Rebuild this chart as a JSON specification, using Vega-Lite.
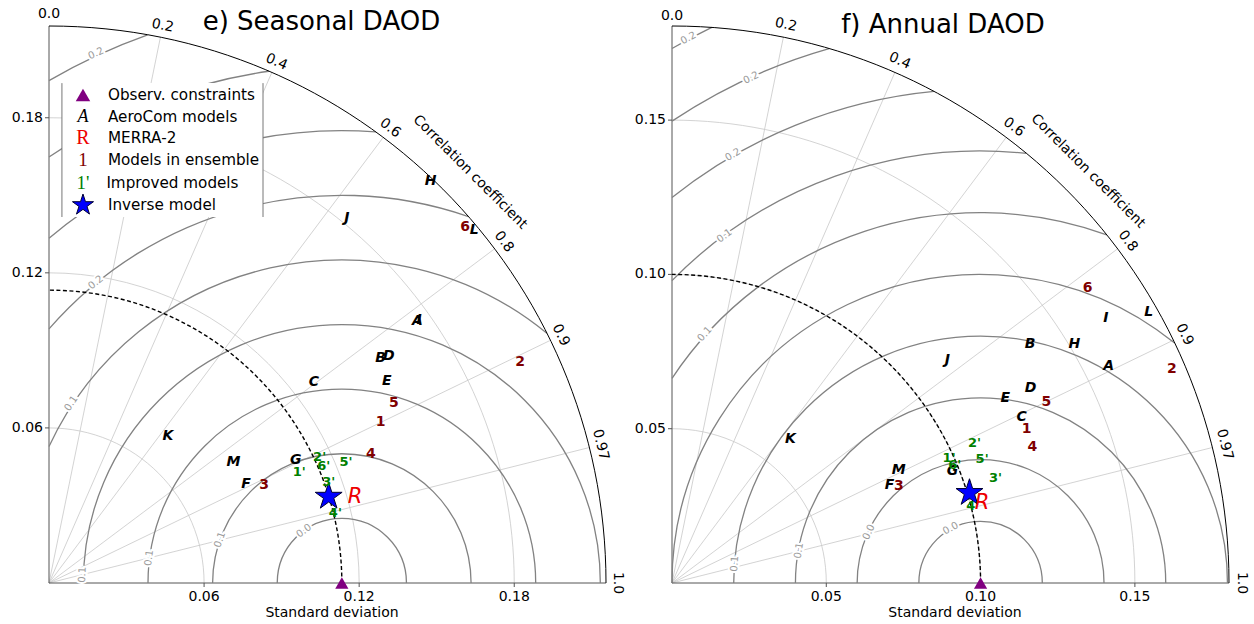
{
  "$schema": "https://vega.github.io/schema/vega-lite/v6.json",
  "background": "white",
  "autosize": {"type": "none"},
  "padding": {"left": 49, "top": 26, "right": 0, "bottom": 41},
  "width": 1205,
  "height": 557,
  "config": {
    "view": {"stroke": null},
    "font": "DejaVu Sans",
    "text": {"font": "DejaVu Sans"}
  },
  "resolve": {"scale": {"x": "independent", "y": "independent", "size": "independent"}},
  "datasets": {
    "e_std": [{"cx": 0, "cy": 0, "r": 0.06}, {"cx": 0, "cy": 0, "r": 0.12}, {"cx": 0, "cy": 0, "r": 0.18}],
    "f_std": [{"cx": 0, "cy": 0, "r": 0.05}, {"cx": 0, "cy": 0, "r": 0.1}, {"cx": 0, "cy": 0, "r": 0.15}],
    "e_ax": [{"v": 0.06, "z": 0}, {"v": 0.12, "z": 0}, {"v": 0.18, "z": 0}],
    "f_ax": [{"v": 0.05, "z": 0}, {"v": 0.1, "z": 0}, {"v": 0.15, "z": 0}],
    "e_rays": [{"x0": 0, "y0": 0, "ex": 0.0431, "ey": 0.2111}, {"x0": 0, "y0": 0, "ex": 0.0862, "ey": 0.1975}, {"x0": 0, "y0": 0, "ex": 0.1293, "ey": 0.1724}, {"x0": 0, "y0": 0, "ex": 0.1724, "ey": 0.1293}, {"x0": 0, "y0": 0, "ex": 0.194, "ey": 0.0939}, {"x0": 0, "y0": 0, "ex": 0.209, "ey": 0.0524}],
    "f_rays": [{"x0": 0, "y0": 0, "ex": 0.0361, "ey": 0.1769}, {"x0": 0, "y0": 0, "ex": 0.0722, "ey": 0.1654}, {"x0": 0, "y0": 0, "ex": 0.1083, "ey": 0.1444}, {"x0": 0, "y0": 0, "ex": 0.1444, "ey": 0.1083}, {"x0": 0, "y0": 0, "ex": 0.1625, "ey": 0.0787}, {"x0": 0, "y0": 0, "ex": 0.1751, "ey": 0.0439}],
    "e_base": [{"xa": 0, "xb": 0.2155, "y0": 0}],
    "f_base": [{"xa": 0, "xb": 0.1805, "y0": 0}],
    "e_rmsfull": [{"cx": 0.1133, "cy": 0, "d": 0.025}, {"cx": 0.1133, "cy": 0, "d": 0.05}, {"cx": 0.1133, "cy": 0, "d": 0.075}, {"cx": 0.1133, "cy": 0, "d": 0.1}],
    "f_rmsfull": [{"cx": 0.1, "cy": 0, "d": 0.02}, {"cx": 0.1, "cy": 0, "d": 0.04}, {"cx": 0.1, "cy": 0, "d": 0.06}, {"cx": 0.1, "cy": 0, "d": 0.08}],
    "e_frame": [{"cx": 0, "cy": 0, "r": 0.2155, "ref": 0.1133}],
    "f_frame": [{"cx": 0, "cy": 0, "r": 0.1805, "ref": 0.1}],
    "e_rmslab": [
      {"t": "0.2", "x": 0.0182, "y": 0.2049, "a": -24.9},
      {"t": "0.2", "x": 0.0181, "y": 0.1163, "a": -39.3},
      {"t": "0.1", "x": 0.0086, "y": 0.0695, "a": -56.4},
      {"t": "0.1", "x": 0.0129, "y": 0.0032, "a": -88},
      {"t": "0.1", "x": 0.0387, "y": 0.0097, "a": -82.6},
      {"t": "0.1", "x": 0.0661, "y": 0.0167, "a": -70.5},
      {"t": "0.0", "x": 0.0986, "y": 0.0202, "a": -36}
    ],
    "f_rmslab": [
      {"t": "0.2", "x": 0.0053, "y": 0.1766, "a": -28.2},
      {"t": "0.2", "x": 0.0256, "y": 0.1637, "a": -26},
      {"t": "0.2", "x": 0.0197, "y": 0.1388, "a": -30},
      {"t": "0.1", "x": 0.017, "y": 0.1125, "a": -36.4},
      {"t": "0.1", "x": 0.0106, "y": 0.0807, "a": -48},
      {"t": "0.1", "x": 0.0203, "y": 0.0062, "a": -85.6},
      {"t": "0.1", "x": 0.0411, "y": 0.0105, "a": -80},
      {"t": "0.0", "x": 0.0638, "y": 0.0165, "a": -65.5},
      {"t": "0.0", "x": 0.0903, "y": 0.0177, "a": -28.7}
    ],
    "e_corr": [
      {"t": "0.0", "x": 0, "y": 0.22, "a": 0},
      {"t": "0.2", "x": 0.044, "y": 0.2156, "a": 11.54},
      {"t": "0.4", "x": 0.088, "y": 0.2016, "a": 23.58},
      {"t": "0.6", "x": 0.132, "y": 0.176, "a": 36.87},
      {"t": "0.8", "x": 0.176, "y": 0.132, "a": 53.13},
      {"t": "0.9", "x": 0.198, "y": 0.0959, "a": 64.16},
      {"t": "0.97", "x": 0.2134, "y": 0.0535, "a": 75.93},
      {"t": "1.0", "x": 0.22, "y": 0, "a": 90}
    ],
    "f_corr": [
      {"t": "0.0", "x": 0, "y": 0.1838, "a": 0},
      {"t": "0.2", "x": 0.0369, "y": 0.1809, "a": 11.54},
      {"t": "0.4", "x": 0.0738, "y": 0.1692, "a": 23.58},
      {"t": "0.6", "x": 0.1108, "y": 0.1477, "a": 36.87},
      {"t": "0.8", "x": 0.1477, "y": 0.1108, "a": 53.13},
      {"t": "0.9", "x": 0.1661, "y": 0.0805, "a": 64.16},
      {"t": "0.97", "x": 0.1791, "y": 0.0449, "a": 75.93},
      {"t": "1.0", "x": 0.1846, "y": 0, "a": 90}
    ],
    "e_pts": [
      {"kind": "A", "t": "A", "x": 0.1425, "y": 0.1014},
      {"kind": "A", "t": "I", "x": 0.1432, "y": 0.1018},
      {"kind": "A", "t": "B", "x": 0.1283, "y": 0.087},
      {"kind": "A", "t": "C", "x": 0.1025, "y": 0.0779},
      {"kind": "A", "t": "D", "x": 0.1315, "y": 0.0877},
      {"kind": "A", "t": "E", "x": 0.1307, "y": 0.0782},
      {"kind": "A", "t": "F", "x": 0.0762, "y": 0.0382},
      {"kind": "A", "t": "G", "x": 0.0955, "y": 0.0477},
      {"kind": "A", "t": "H", "x": 0.1476, "y": 0.1554},
      {"kind": "A", "t": "J", "x": 0.1152, "y": 0.1411},
      {"kind": "A", "t": "K", "x": 0.046, "y": 0.0568},
      {"kind": "A", "t": "L", "x": 0.1645, "y": 0.1365},
      {"kind": "A", "t": "M", "x": 0.0714, "y": 0.0467},
      {"kind": "ens", "t": "1", "x": 0.1283, "y": 0.0623},
      {"kind": "ens", "t": "2", "x": 0.1823, "y": 0.0854},
      {"kind": "ens", "t": "3", "x": 0.0832, "y": 0.0379},
      {"kind": "ens", "t": "4", "x": 0.1245, "y": 0.0499},
      {"kind": "ens", "t": "5", "x": 0.1334, "y": 0.0695},
      {"kind": "ens", "t": "6", "x": 0.161, "y": 0.1378},
      {"kind": "imp", "t": "1'", "x": 0.0968, "y": 0.0428},
      {"kind": "imp", "t": "2'", "x": 0.1047, "y": 0.0486},
      {"kind": "imp", "t": "3'", "x": 0.1082, "y": 0.0391},
      {"kind": "imp", "t": "4'", "x": 0.1108, "y": 0.0269},
      {"kind": "imp", "t": "5'", "x": 0.1149, "y": 0.0467},
      {"kind": "imp", "t": "6'", "x": 0.1063, "y": 0.0454},
      {"kind": "merra", "t": "R", "x": 0.1184, "y": 0.0334},
      {"kind": "inv", "t": "", "x": 0.1082, "y": 0.0334},
      {"kind": "obs", "t": "", "x": 0.1133, "y": 0}
    ],
    "f_pts": [
      {"kind": "A", "t": "A", "x": 0.1415, "y": 0.0703},
      {"kind": "A", "t": "B", "x": 0.116, "y": 0.0776},
      {"kind": "A", "t": "C", "x": 0.1133, "y": 0.0538},
      {"kind": "A", "t": "D", "x": 0.1162, "y": 0.0632},
      {"kind": "A", "t": "E", "x": 0.108, "y": 0.0599},
      {"kind": "A", "t": "F", "x": 0.0705, "y": 0.0319},
      {"kind": "A", "t": "G", "x": 0.0909, "y": 0.0363},
      {"kind": "A", "t": "H", "x": 0.1304, "y": 0.0776},
      {"kind": "A", "t": "I", "x": 0.1406, "y": 0.086},
      {"kind": "A", "t": "J", "x": 0.0892, "y": 0.0723},
      {"kind": "A", "t": "K", "x": 0.0384, "y": 0.0467},
      {"kind": "A", "t": "L", "x": 0.1545, "y": 0.0878},
      {"kind": "A", "t": "M", "x": 0.0735, "y": 0.0365},
      {"kind": "ens", "t": "1", "x": 0.1149, "y": 0.05},
      {"kind": "ens", "t": "2", "x": 0.162, "y": 0.0692},
      {"kind": "ens", "t": "3", "x": 0.0735, "y": 0.0314},
      {"kind": "ens", "t": "4", "x": 0.1168, "y": 0.0442},
      {"kind": "ens", "t": "5", "x": 0.1213, "y": 0.0588},
      {"kind": "ens", "t": "6", "x": 0.1347, "y": 0.0957},
      {"kind": "imp", "t": "1'", "x": 0.0898, "y": 0.0404},
      {"kind": "imp", "t": "2'", "x": 0.098, "y": 0.0453},
      {"kind": "imp", "t": "3'", "x": 0.1048, "y": 0.0341},
      {"kind": "imp", "t": "4'", "x": 0.0975, "y": 0.0248},
      {"kind": "imp", "t": "5'", "x": 0.1005, "y": 0.0401},
      {"kind": "imp", "t": "6'", "x": 0.0916, "y": 0.0382},
      {"kind": "merra", "t": "R", "x": 0.1005, "y": 0.0259},
      {"kind": "inv", "t": "", "x": 0.0964, "y": 0.0292},
      {"kind": "obs", "t": "", "x": 0.1, "y": 0}
    ],
    "e_leg": [
      {"kind": "obs", "g": "", "t": "Observ. constraints", "sx": 0.01315, "tx": 0.0228, "y": 0.1888},
      {"kind": "A", "g": "A", "t": "AeroCom models", "sx": 0.01315, "tx": 0.0228, "y": 0.1803},
      {"kind": "merra", "g": "R", "t": "MERRA-2", "sx": 0.01315, "tx": 0.0228, "y": 0.1721},
      {"kind": "ens", "g": "1", "t": "Models in ensemble", "sx": 0.01315, "tx": 0.0228, "y": 0.1636},
      {"kind": "imp", "g": "1'", "t": "Improved models", "sx": 0.01315, "tx": 0.0222, "y": 0.1547},
      {"kind": "inv", "g": "", "t": "Inverse model", "sx": 0.01315, "tx": 0.0228, "y": 0.1462}
    ],
    "e_legbox": [{"xa": 0.005, "xb": 0.0828, "ya": 0.1416, "yb": 0.1934}]
  },
  "layer": [
    {
      "layer": [
        {
          "data": {"name": "e_std"},
          "mark": {"type": "point", "shape": "M1,0A1,1,0,0,0,0,-1", "filled": false, "stroke": "#c8c8c8", "strokeWidth": 0.8, "opacity": 1},
          "encoding": {
            "x": {"field": "cx", "type": "quantitative", "scale": {"domain": [0, 0.466203], "nice": false, "zero": false}, "axis": null},
            "y": {"field": "cy", "type": "quantitative", "scale": {"domain": [0, 0.2155], "nice": false, "zero": false}, "axis": null},
            "size": {"field": "r", "type": "quantitative", "legend": null, "scale": {"type": "pow", "exponent": 2, "domain": [0, 0.2155], "range": [0, 1240996]}}
          }
        },
        {
          "data": {"name": "e_rays"},
          "mark": {"type": "rule", "stroke": "#c8c8c8", "strokeWidth": 0.8},
          "encoding": {
            "x": {"field": "x0", "type": "quantitative", "axis": null},
            "y": {"field": "y0", "type": "quantitative", "axis": null},
            "x2": {"field": "ex"},
            "y2": {"field": "ey"}
          }
        },
        {
          "data": {"name": "e_base"},
          "mark": {"type": "rule", "stroke": "#555", "strokeWidth": 1},
          "encoding": {
            "x": {"field": "xa", "type": "quantitative", "axis": null},
            "x2": {"field": "xb"},
            "y": {"field": "y0", "type": "quantitative", "axis": null}
          }
        },
        {
          "data": {"name": "e_base"},
          "mark": {"type": "rule", "stroke": "#555", "strokeWidth": 1},
          "encoding": {
            "x": {"field": "y0", "type": "quantitative", "axis": null},
            "y": {"field": "y0", "type": "quantitative", "axis": null},
            "y2": {"field": "xb"}
          }
        },
        {
          "data": {"name": "e_ax"},
          "mark": {"type": "rule", "stroke": "#555", "strokeWidth": 1, "xOffset": -4},
          "encoding": {
            "x": {"field": "z", "type": "quantitative", "axis": null},
            "x2": {"field": "z"},
            "y": {"field": "v", "type": "quantitative", "axis": null}
          }
        },
        {
          "data": {"name": "e_ax"},
          "mark": {"type": "rule", "stroke": "#555", "strokeWidth": 1, "y2Offset": 4},
          "encoding": {
            "x": {"field": "v", "type": "quantitative", "axis": null},
            "y": {"field": "z", "type": "quantitative", "axis": null},
            "y2": {"field": "z"}
          }
        },
        {
          "data": {"name": "e_ax"},
          "mark": {"type": "text", "fontSize": 14, "color": "#000", "align": "right", "baseline": "middle", "dx": -6},
          "encoding": {
            "x": {"field": "z", "type": "quantitative", "axis": null},
            "y": {"field": "v", "type": "quantitative", "axis": null},
            "text": {"field": "v", "type": "quantitative", "format": ".2f"}
          }
        },
        {
          "data": {"name": "e_ax"},
          "mark": {"type": "text", "fontSize": 14, "color": "#000", "align": "center", "baseline": "top", "dy": 7},
          "encoding": {
            "x": {"field": "v", "type": "quantitative", "axis": null},
            "y": {"field": "z", "type": "quantitative", "axis": null},
            "text": {"field": "v", "type": "quantitative", "format": ".2f"}
          }
        },
        {
          "data": {"values": [{"t": "Standard deviation", "x": 0.1095, "y": 0}]},
          "mark": {"type": "text", "fontSize": 14, "color": "#000", "align": "center", "baseline": "middle", "dy": 30},
          "encoding": {
            "x": {"field": "x", "type": "quantitative", "axis": null},
            "y": {"field": "y", "type": "quantitative", "axis": null},
            "text": {"field": "t"}
          }
        },
        {
          "data": {"name": "e_rmsfull"},
          "mark": {"type": "point", "shape": "M1,0A1,1,0,0,0,0,-1A1,1,0,0,0,-1,0", "filled": false, "stroke": "#828282", "strokeWidth": 1.3, "opacity": 1},
          "encoding": {
            "x": {"field": "cx", "type": "quantitative", "axis": null},
            "y": {"field": "cy", "type": "quantitative", "axis": null},
            "size": {"field": "d", "type": "quantitative", "legend": null}
          }
        },
        {
          "data": {"values": [{"cx": 0.1133, "cy": 0, "d": 0.125}]},
          "mark": {"type": "point", "shape": "M0.6347,-0.7727A1,1,0,0,0,-0.9064,-0.4224", "filled": false, "stroke": "#828282", "strokeWidth": 1.3, "opacity": 1},
          "encoding": {
            "x": {"field": "cx", "type": "quantitative", "axis": null},
            "y": {"field": "cy", "type": "quantitative", "axis": null},
            "size": {"field": "d", "type": "quantitative", "legend": null}
          }
        },
        {
          "data": {"values": [{"cx": 0.1133, "cy": 0, "d": 0.15}]},
          "mark": {"type": "point", "shape": "M0.3267,-0.9451A1,1,0,0,0,-0.7553,-0.6553", "filled": false, "stroke": "#828282", "strokeWidth": 1.3, "opacity": 1},
          "encoding": {
            "x": {"field": "cx", "type": "quantitative", "axis": null},
            "y": {"field": "cy", "type": "quantitative", "axis": null},
            "size": {"field": "d", "type": "quantitative", "legend": null}
          }
        },
        {
          "data": {"values": [{"cx": 0.1133, "cy": 0, "d": 0.175}]},
          "mark": {"type": "point", "shape": "M0.0751,-0.9972A1,1,0,0,0,-0.6474,-0.7621", "filled": false, "stroke": "#828282", "strokeWidth": 1.3, "opacity": 1},
          "encoding": {
            "x": {"field": "cx", "type": "quantitative", "axis": null},
            "y": {"field": "cy", "type": "quantitative", "axis": null},
            "size": {"field": "d", "type": "quantitative", "legend": null}
          }
        },
        {
          "data": {"values": [{"cx": 0.1133, "cy": 0, "d": 0.2}]},
          "mark": {"type": "point", "shape": "M-0.1412,-0.99A1,1,0,0,0,-0.5665,-0.8241", "filled": false, "stroke": "#828282", "strokeWidth": 1.3, "opacity": 1},
          "encoding": {
            "x": {"field": "cx", "type": "quantitative", "axis": null},
            "y": {"field": "cy", "type": "quantitative", "axis": null},
            "size": {"field": "d", "type": "quantitative", "legend": null}
          }
        },
        {
          "data": {"values": [{"cx": 0.1133, "cy": 0, "d": 0.225}]},
          "mark": {"type": "point", "shape": "M-0.3339,-0.9426A1,1,0,0,0,-0.5036,-0.8639", "filled": false, "stroke": "#828282", "strokeWidth": 1.3, "opacity": 1},
          "encoding": {
            "x": {"field": "cx", "type": "quantitative", "axis": null},
            "y": {"field": "cy", "type": "quantitative", "axis": null},
            "size": {"field": "d", "type": "quantitative", "legend": null}
          }
        },
        {
          "data": {"name": "e_frame"},
          "mark": {"type": "point", "shape": "M1,0A1,1,0,0,0,0,-1", "filled": false, "stroke": "#000", "strokeWidth": 1, "opacity": 1},
          "encoding": {
            "x": {"field": "cx", "type": "quantitative", "axis": null},
            "y": {"field": "cy", "type": "quantitative", "axis": null},
            "size": {"field": "r", "type": "quantitative", "legend": null}
          }
        },
        {
          "data": {"name": "e_frame"},
          "mark": {"type": "point", "shape": "M1,0A1,1,0,0,0,0,-1", "filled": false, "stroke": "#000", "strokeWidth": 1.4, "strokeDash": [4, 2.5], "opacity": 1},
          "encoding": {
            "x": {"field": "cx", "type": "quantitative", "axis": null},
            "y": {"field": "cy", "type": "quantitative", "axis": null},
            "size": {"field": "ref", "type": "quantitative", "legend": null}
          }
        },
        {
          "data": {"name": "e_rmslab"},
          "mark": {"type": "text", "fontSize": 10, "fill": "white", "stroke": "white", "strokeWidth": 4, "align": "center", "baseline": "middle"},
          "encoding": {
            "x": {"field": "x", "type": "quantitative", "axis": null},
            "y": {"field": "y", "type": "quantitative", "axis": null},
            "text": {"field": "t"},
            "angle": {"field": "a", "type": "quantitative", "scale": null}
          }
        },
        {
          "data": {"name": "e_rmslab"},
          "mark": {"type": "text", "fontSize": 10, "color": "#9a9a9a", "align": "center", "baseline": "middle"},
          "encoding": {
            "x": {"field": "x", "type": "quantitative", "axis": null},
            "y": {"field": "y", "type": "quantitative", "axis": null},
            "text": {"field": "t"},
            "angle": {"field": "a", "type": "quantitative", "scale": null}
          }
        },
        {
          "data": {"name": "e_corr"},
          "mark": {"type": "text", "fontSize": 14, "color": "#000", "align": "center", "baseline": "middle"},
          "encoding": {
            "x": {"field": "x", "type": "quantitative", "axis": null},
            "y": {"field": "y", "type": "quantitative", "axis": null},
            "text": {"field": "t"},
            "angle": {"field": "a", "type": "quantitative", "scale": null}
          }
        },
        {
          "data": {"values": [{"t": "Correlation coefficient", "x": 0.1629, "y": 0.159}]},
          "mark": {"type": "text", "fontSize": 14, "color": "#000", "align": "center", "baseline": "middle", "angle": 45},
          "encoding": {
            "x": {"field": "x", "type": "quantitative", "axis": null},
            "y": {"field": "y", "type": "quantitative", "axis": null},
            "text": {"field": "t"}
          }
        },
        {
          "data": {"values": [{"t": "e) Seasonal DAOD", "x": 0.1054, "y": 0.217}]},
          "mark": {"type": "text", "fontSize": 26, "color": "#000", "align": "center", "baseline": "middle"},
          "encoding": {
            "x": {"field": "x", "type": "quantitative", "axis": null},
            "y": {"field": "y", "type": "quantitative", "axis": null},
            "text": {"field": "t"}
          }
        },
        {
          "data": {"name": "e_legbox"},
          "mark": {"type": "rect", "fill": "white"},
          "encoding": {
            "x": {"field": "xa", "type": "quantitative", "axis": null},
            "x2": {"field": "xb"},
            "y": {"field": "ya", "type": "quantitative", "axis": null},
            "y2": {"field": "yb"}
          }
        },
        {
          "data": {"name": "e_legbox"},
          "mark": {"type": "rule", "stroke": "#777", "strokeWidth": 1},
          "encoding": {
            "x": {"field": "xa", "type": "quantitative", "axis": null},
            "y": {"field": "ya", "type": "quantitative", "axis": null},
            "y2": {"field": "yb"}
          }
        },
        {
          "data": {"name": "e_legbox"},
          "mark": {"type": "rule", "stroke": "#777", "strokeWidth": 1},
          "encoding": {
            "x": {"field": "xb", "type": "quantitative", "axis": null},
            "y": {"field": "ya", "type": "quantitative", "axis": null},
            "y2": {"field": "yb"}
          }
        },
        {
          "data": {"name": "e_leg"},
          "mark": {"type": "text", "fontSize": 15.2, "color": "#000", "align": "left", "baseline": "middle"},
          "encoding": {
            "x": {"field": "tx", "type": "quantitative", "axis": null},
            "y": {"field": "y", "type": "quantitative", "axis": null},
            "text": {"field": "t"}
          }
        },
        {
          "data": {"name": "e_leg"},
          "transform": [{"filter": "datum.kind == 'obs'"}],
          "mark": {"type": "point", "shape": "triangle-up", "filled": true, "color": "#800080", "size": 210, "opacity": 1},
          "encoding": {
            "x": {"field": "sx", "type": "quantitative", "axis": null},
            "y": {"field": "y", "type": "quantitative", "axis": null}
          }
        },
        {
          "data": {"name": "e_leg"},
          "transform": [{"filter": "datum.kind == 'inv'"}],
          "mark": {"type": "point", "shape": "M0,-1L0.2245,-0.309L0.9511,-0.309L0.3633,0.118L0.5878,0.809L0,0.382L-0.5878,0.809L-0.3633,0.118L-0.9511,-0.309L-0.2245,-0.309Z", "filled": true, "fill": "#0000ff", "stroke": "#000033", "strokeWidth": 1, "size": 490, "opacity": 1},
          "encoding": {
            "x": {"field": "sx", "type": "quantitative", "axis": null},
            "y": {"field": "y", "type": "quantitative", "axis": null}
          }
        },
        {
          "data": {"name": "e_leg"},
          "transform": [{"filter": "datum.kind == 'A'"}],
          "mark": {"type": "text", "font": "Liberation Serif", "fontStyle": "italic", "fontSize": 18, "color": "#000", "align": "center", "baseline": "middle"},
          "encoding": {
            "x": {"field": "sx", "type": "quantitative", "axis": null},
            "y": {"field": "y", "type": "quantitative", "axis": null},
            "text": {"field": "g"}
          }
        },
        {
          "data": {"name": "e_leg"},
          "transform": [{"filter": "datum.kind == 'merra'"}],
          "mark": {"type": "text", "font": "Liberation Serif", "fontSize": 20, "color": "#ee0000", "align": "center", "baseline": "middle"},
          "encoding": {
            "x": {"field": "sx", "type": "quantitative", "axis": null},
            "y": {"field": "y", "type": "quantitative", "axis": null},
            "text": {"field": "g"}
          }
        },
        {
          "data": {"name": "e_leg"},
          "transform": [{"filter": "datum.kind == 'ens'"}],
          "mark": {"type": "text", "font": "Liberation Serif", "fontSize": 19, "color": "#800000", "align": "center", "baseline": "middle"},
          "encoding": {
            "x": {"field": "sx", "type": "quantitative", "axis": null},
            "y": {"field": "y", "type": "quantitative", "axis": null},
            "text": {"field": "g"}
          }
        },
        {
          "data": {"name": "e_leg"},
          "transform": [{"filter": "datum.kind == 'imp'"}],
          "mark": {"type": "text", "font": "Liberation Serif", "fontSize": 19, "color": "#008000", "align": "center", "baseline": "middle"},
          "encoding": {
            "x": {"field": "sx", "type": "quantitative", "axis": null},
            "y": {"field": "y", "type": "quantitative", "axis": null},
            "text": {"field": "g"}
          }
        },
        {
          "data": {"name": "e_pts"},
          "transform": [{"filter": "datum.kind == 'obs'"}],
          "mark": {"type": "point", "shape": "triangle-up", "filled": true, "color": "#800080", "size": 175, "opacity": 1},
          "encoding": {
            "x": {"field": "x", "type": "quantitative", "axis": null},
            "y": {"field": "y", "type": "quantitative", "axis": null}
          }
        },
        {
          "data": {"name": "e_pts"},
          "transform": [{"filter": "datum.kind == 'A'"}],
          "mark": {"type": "text", "fontSize": 14, "fontStyle": "italic", "fontWeight": "bold", "color": "#000", "align": "center", "baseline": "middle"},
          "encoding": {
            "x": {"field": "x", "type": "quantitative", "axis": null},
            "y": {"field": "y", "type": "quantitative", "axis": null},
            "text": {"field": "t"}
          }
        },
        {
          "data": {"name": "e_pts"},
          "transform": [{"filter": "datum.kind == 'ens'"}],
          "mark": {"type": "text", "fontSize": 14, "fontWeight": "bold", "color": "#800000", "align": "center", "baseline": "middle"},
          "encoding": {
            "x": {"field": "x", "type": "quantitative", "axis": null},
            "y": {"field": "y", "type": "quantitative", "axis": null},
            "text": {"field": "t"}
          }
        },
        {
          "data": {"name": "e_pts"},
          "transform": [{"filter": "datum.kind == 'inv'"}],
          "mark": {"type": "point", "shape": "M0,-1L0.2245,-0.309L0.9511,-0.309L0.3633,0.118L0.5878,0.809L0,0.382L-0.5878,0.809L-0.3633,0.118L-0.9511,-0.309L-0.2245,-0.309Z", "filled": true, "fill": "#0000ff", "stroke": "#000033", "strokeWidth": 1, "size": 800, "opacity": 1},
          "encoding": {
            "x": {"field": "x", "type": "quantitative", "axis": null},
            "y": {"field": "y", "type": "quantitative", "axis": null}
          }
        },
        {
          "data": {"name": "e_pts"},
          "transform": [{"filter": "datum.kind == 'imp'"}],
          "mark": {"type": "text", "fontSize": 13, "fontWeight": "bold", "color": "#008000", "align": "center", "baseline": "middle"},
          "encoding": {
            "x": {"field": "x", "type": "quantitative", "axis": null},
            "y": {"field": "y", "type": "quantitative", "axis": null},
            "text": {"field": "t"}
          }
        },
        {
          "data": {"name": "e_pts"},
          "transform": [{"filter": "datum.kind == 'merra'"}],
          "mark": {"type": "text", "fontSize": 21, "fontStyle": "italic", "color": "#ee0000", "align": "center", "baseline": "middle"},
          "encoding": {
            "x": {"field": "x", "type": "quantitative", "axis": null},
            "y": {"field": "y", "type": "quantitative", "axis": null},
            "text": {"field": "t"}
          }
        }
      ]
    },
    {
      "layer": [
        {
          "data": {"name": "f_std"},
          "mark": {"type": "point", "shape": "M1,0A1,1,0,0,0,0,-1", "filled": false, "stroke": "#c8c8c8", "strokeWidth": 0.8, "opacity": 1},
          "encoding": {
            "x": {"field": "cx", "type": "quantitative", "scale": {"domain": [-0.201888, 0.188601], "nice": false, "zero": false}, "axis": null},
            "y": {"field": "cy", "type": "quantitative", "scale": {"domain": [0, 0.1805], "nice": false, "zero": false}, "axis": null},
            "size": {"field": "r", "type": "quantitative", "legend": null, "scale": {"type": "pow", "exponent": 2, "domain": [0, 0.1805], "range": [0, 1240996]}}
          }
        },
        {
          "data": {"name": "f_rays"},
          "mark": {"type": "rule", "stroke": "#c8c8c8", "strokeWidth": 0.8},
          "encoding": {
            "x": {"field": "x0", "type": "quantitative", "axis": null},
            "y": {"field": "y0", "type": "quantitative", "axis": null},
            "x2": {"field": "ex"},
            "y2": {"field": "ey"}
          }
        },
        {
          "data": {"name": "f_base"},
          "mark": {"type": "rule", "stroke": "#555", "strokeWidth": 1},
          "encoding": {
            "x": {"field": "xa", "type": "quantitative", "axis": null},
            "x2": {"field": "xb"},
            "y": {"field": "y0", "type": "quantitative", "axis": null}
          }
        },
        {
          "data": {"name": "f_base"},
          "mark": {"type": "rule", "stroke": "#555", "strokeWidth": 1},
          "encoding": {
            "x": {"field": "y0", "type": "quantitative", "axis": null},
            "y": {"field": "y0", "type": "quantitative", "axis": null},
            "y2": {"field": "xb"}
          }
        },
        {
          "data": {"name": "f_ax"},
          "mark": {"type": "rule", "stroke": "#555", "strokeWidth": 1, "xOffset": -4},
          "encoding": {
            "x": {"field": "z", "type": "quantitative", "axis": null},
            "x2": {"field": "z"},
            "y": {"field": "v", "type": "quantitative", "axis": null}
          }
        },
        {
          "data": {"name": "f_ax"},
          "mark": {"type": "rule", "stroke": "#555", "strokeWidth": 1, "y2Offset": 4},
          "encoding": {
            "x": {"field": "v", "type": "quantitative", "axis": null},
            "y": {"field": "z", "type": "quantitative", "axis": null},
            "y2": {"field": "z"}
          }
        },
        {
          "data": {"name": "f_ax"},
          "mark": {"type": "text", "fontSize": 14, "color": "#000", "align": "right", "baseline": "middle", "dx": -6},
          "encoding": {
            "x": {"field": "z", "type": "quantitative", "axis": null},
            "y": {"field": "v", "type": "quantitative", "axis": null},
            "text": {"field": "v", "type": "quantitative", "format": ".2f"}
          }
        },
        {
          "data": {"name": "f_ax"},
          "mark": {"type": "text", "fontSize": 14, "color": "#000", "align": "center", "baseline": "top", "dy": 7},
          "encoding": {
            "x": {"field": "v", "type": "quantitative", "axis": null},
            "y": {"field": "z", "type": "quantitative", "axis": null},
            "text": {"field": "v", "type": "quantitative", "format": ".2f"}
          }
        },
        {
          "data": {"values": [{"t": "Standard deviation", "x": 0.0917, "y": 0}]},
          "mark": {"type": "text", "fontSize": 14, "color": "#000", "align": "center", "baseline": "middle", "dy": 30},
          "encoding": {
            "x": {"field": "x", "type": "quantitative", "axis": null},
            "y": {"field": "y", "type": "quantitative", "axis": null},
            "text": {"field": "t"}
          }
        },
        {
          "data": {"name": "f_rmsfull"},
          "mark": {"type": "point", "shape": "M1,0A1,1,0,0,0,0,-1A1,1,0,0,0,-1,0", "filled": false, "stroke": "#828282", "strokeWidth": 1.3, "opacity": 1},
          "encoding": {
            "x": {"field": "cx", "type": "quantitative", "axis": null},
            "y": {"field": "cy", "type": "quantitative", "axis": null},
            "size": {"field": "d", "type": "quantitative", "legend": null}
          }
        },
        {
          "data": {"values": [{"cx": 0.1, "cy": 0, "d": 0.1}]},
          "mark": {"type": "point", "shape": "M0.629,-0.7774A1,1,0,0,0,-1,0", "filled": false, "stroke": "#828282", "strokeWidth": 1.3, "opacity": 1},
          "encoding": {
            "x": {"field": "cx", "type": "quantitative", "axis": null},
            "y": {"field": "cy", "type": "quantitative", "axis": null},
            "size": {"field": "d", "type": "quantitative", "legend": null}
          }
        },
        {
          "data": {"values": [{"cx": 0.1, "cy": 0, "d": 0.12}]},
          "mark": {"type": "point", "shape": "M0.3408,-0.9401A1,1,0,0,0,-0.8333,-0.5528", "filled": false, "stroke": "#828282", "strokeWidth": 1.3, "opacity": 1},
          "encoding": {
            "x": {"field": "cx", "type": "quantitative", "axis": null},
            "y": {"field": "cy", "type": "quantitative", "axis": null},
            "size": {"field": "d", "type": "quantitative", "legend": null}
          }
        },
        {
          "data": {"values": [{"cx": 0.1, "cy": 0, "d": 0.14}]},
          "mark": {"type": "point", "shape": "M0.1064,-0.9943A1,1,0,0,0,-0.7143,-0.6999", "filled": false, "stroke": "#828282", "strokeWidth": 1.3, "opacity": 1},
          "encoding": {
            "x": {"field": "cx", "type": "quantitative", "axis": null},
            "y": {"field": "cy", "type": "quantitative", "axis": null},
            "size": {"field": "d", "type": "quantitative", "legend": null}
          }
        },
        {
          "data": {"values": [{"cx": 0.1, "cy": 0, "d": 0.16}]},
          "mark": {"type": "point", "shape": "M-0.0944,-0.9956A1,1,0,0,0,-0.625,-0.7806", "filled": false, "stroke": "#828282", "strokeWidth": 1.3, "opacity": 1},
          "encoding": {
            "x": {"field": "cx", "type": "quantitative", "axis": null},
            "y": {"field": "cy", "type": "quantitative", "axis": null},
            "size": {"field": "d", "type": "quantitative", "legend": null}
          }
        },
        {
          "data": {"values": [{"cx": 0.1, "cy": 0, "d": 0.18}]},
          "mark": {"type": "point", "shape": "M-0.2728,-0.9621A1,1,0,0,0,-0.5556,-0.8315", "filled": false, "stroke": "#828282", "strokeWidth": 1.3, "opacity": 1},
          "encoding": {
            "x": {"field": "cx", "type": "quantitative", "axis": null},
            "y": {"field": "cy", "type": "quantitative", "axis": null},
            "size": {"field": "d", "type": "quantitative", "legend": null}
          }
        },
        {
          "data": {"values": [{"cx": 0.1, "cy": 0, "d": 0.2}]},
          "mark": {"type": "point", "shape": "M-0.4355,-0.9002A1,1,0,0,0,-0.5,-0.866", "filled": false, "stroke": "#828282", "strokeWidth": 1.3, "opacity": 1},
          "encoding": {
            "x": {"field": "cx", "type": "quantitative", "axis": null},
            "y": {"field": "cy", "type": "quantitative", "axis": null},
            "size": {"field": "d", "type": "quantitative", "legend": null}
          }
        },
        {
          "data": {"name": "f_frame"},
          "mark": {"type": "point", "shape": "M1,0A1,1,0,0,0,0,-1", "filled": false, "stroke": "#000", "strokeWidth": 1, "opacity": 1},
          "encoding": {
            "x": {"field": "cx", "type": "quantitative", "axis": null},
            "y": {"field": "cy", "type": "quantitative", "axis": null},
            "size": {"field": "r", "type": "quantitative", "legend": null}
          }
        },
        {
          "data": {"name": "f_frame"},
          "mark": {"type": "point", "shape": "M1,0A1,1,0,0,0,0,-1", "filled": false, "stroke": "#000", "strokeWidth": 1.4, "strokeDash": [4, 2.5], "opacity": 1},
          "encoding": {
            "x": {"field": "cx", "type": "quantitative", "axis": null},
            "y": {"field": "cy", "type": "quantitative", "axis": null},
            "size": {"field": "ref", "type": "quantitative", "legend": null}
          }
        },
        {
          "data": {"name": "f_rmslab"},
          "mark": {"type": "text", "fontSize": 10, "fill": "white", "stroke": "white", "strokeWidth": 4, "align": "center", "baseline": "middle"},
          "encoding": {
            "x": {"field": "x", "type": "quantitative", "axis": null},
            "y": {"field": "y", "type": "quantitative", "axis": null},
            "text": {"field": "t"},
            "angle": {"field": "a", "type": "quantitative", "scale": null}
          }
        },
        {
          "data": {"name": "f_rmslab"},
          "mark": {"type": "text", "fontSize": 10, "color": "#9a9a9a", "align": "center", "baseline": "middle"},
          "encoding": {
            "x": {"field": "x", "type": "quantitative", "axis": null},
            "y": {"field": "y", "type": "quantitative", "axis": null},
            "text": {"field": "t"},
            "angle": {"field": "a", "type": "quantitative", "scale": null}
          }
        },
        {
          "data": {"name": "f_corr"},
          "mark": {"type": "text", "fontSize": 14, "color": "#000", "align": "center", "baseline": "middle"},
          "encoding": {
            "x": {"field": "x", "type": "quantitative", "axis": null},
            "y": {"field": "y", "type": "quantitative", "axis": null},
            "text": {"field": "t"},
            "angle": {"field": "a", "type": "quantitative", "scale": null}
          }
        },
        {
          "data": {"values": [{"t": "Correlation coefficient", "x": 0.1348, "y": 0.1335}]},
          "mark": {"type": "text", "fontSize": 14, "color": "#000", "align": "center", "baseline": "middle", "angle": 45},
          "encoding": {
            "x": {"field": "x", "type": "quantitative", "axis": null},
            "y": {"field": "y", "type": "quantitative", "axis": null},
            "text": {"field": "t"}
          }
        },
        {
          "data": {"values": [{"t": "f) Annual DAOD", "x": 0.0878, "y": 0.1808}]},
          "mark": {"type": "text", "fontSize": 26, "color": "#000", "align": "center", "baseline": "middle"},
          "encoding": {
            "x": {"field": "x", "type": "quantitative", "axis": null},
            "y": {"field": "y", "type": "quantitative", "axis": null},
            "text": {"field": "t"}
          }
        },
        {
          "data": {"name": "f_pts"},
          "transform": [{"filter": "datum.kind == 'obs'"}],
          "mark": {"type": "point", "shape": "triangle-up", "filled": true, "color": "#800080", "size": 175, "opacity": 1},
          "encoding": {
            "x": {"field": "x", "type": "quantitative", "axis": null},
            "y": {"field": "y", "type": "quantitative", "axis": null}
          }
        },
        {
          "data": {"name": "f_pts"},
          "transform": [{"filter": "datum.kind == 'A'"}],
          "mark": {"type": "text", "fontSize": 14, "fontStyle": "italic", "fontWeight": "bold", "color": "#000", "align": "center", "baseline": "middle"},
          "encoding": {
            "x": {"field": "x", "type": "quantitative", "axis": null},
            "y": {"field": "y", "type": "quantitative", "axis": null},
            "text": {"field": "t"}
          }
        },
        {
          "data": {"name": "f_pts"},
          "transform": [{"filter": "datum.kind == 'ens'"}],
          "mark": {"type": "text", "fontSize": 14, "fontWeight": "bold", "color": "#800000", "align": "center", "baseline": "middle"},
          "encoding": {
            "x": {"field": "x", "type": "quantitative", "axis": null},
            "y": {"field": "y", "type": "quantitative", "axis": null},
            "text": {"field": "t"}
          }
        },
        {
          "data": {"name": "f_pts"},
          "transform": [{"filter": "datum.kind == 'inv'"}],
          "mark": {"type": "point", "shape": "M0,-1L0.2245,-0.309L0.9511,-0.309L0.3633,0.118L0.5878,0.809L0,0.382L-0.5878,0.809L-0.3633,0.118L-0.9511,-0.309L-0.2245,-0.309Z", "filled": true, "fill": "#0000ff", "stroke": "#000033", "strokeWidth": 1, "size": 800, "opacity": 1},
          "encoding": {
            "x": {"field": "x", "type": "quantitative", "axis": null},
            "y": {"field": "y", "type": "quantitative", "axis": null}
          }
        },
        {
          "data": {"name": "f_pts"},
          "transform": [{"filter": "datum.kind == 'imp'"}],
          "mark": {"type": "text", "fontSize": 13, "fontWeight": "bold", "color": "#008000", "align": "center", "baseline": "middle"},
          "encoding": {
            "x": {"field": "x", "type": "quantitative", "axis": null},
            "y": {"field": "y", "type": "quantitative", "axis": null},
            "text": {"field": "t"}
          }
        },
        {
          "data": {"name": "f_pts"},
          "transform": [{"filter": "datum.kind == 'merra'"}],
          "mark": {"type": "text", "fontSize": 21, "fontStyle": "italic", "color": "#ee0000", "align": "center", "baseline": "middle"},
          "encoding": {
            "x": {"field": "x", "type": "quantitative", "axis": null},
            "y": {"field": "y", "type": "quantitative", "axis": null},
            "text": {"field": "t"}
          }
        }
      ]
    }
  ]
}
